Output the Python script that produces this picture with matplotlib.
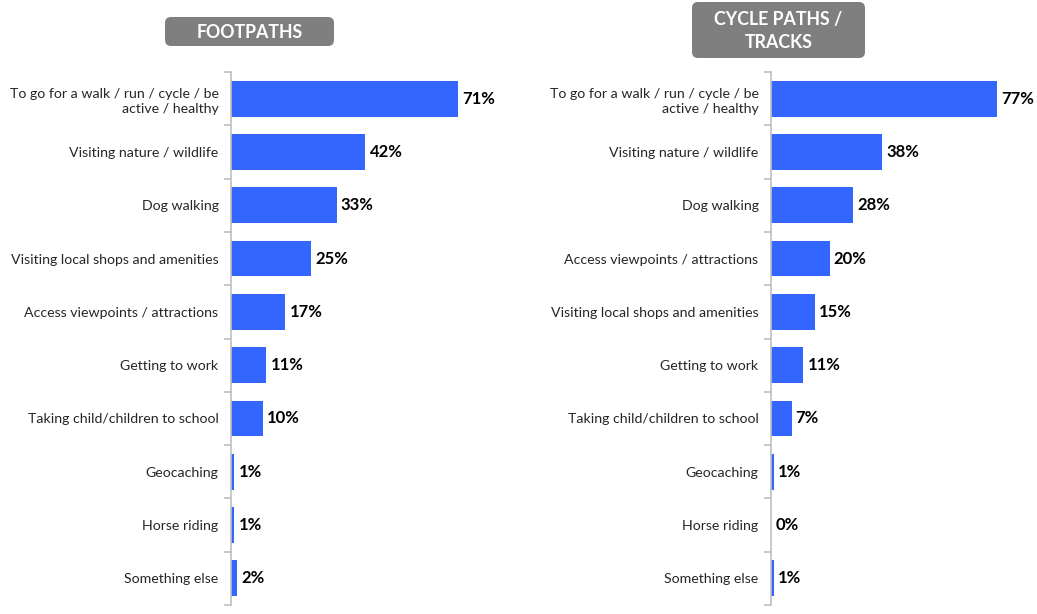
import matplotlib
matplotlib.use("Agg")
import matplotlib.pyplot as plt
from matplotlib.patches import FancyBboxPatch
import numpy as np

foot_cats = ["To go for a walk / run / cycle / be\nactive / healthy",
             "Visiting nature / wildlife", "Dog walking",
             "Visiting local shops and amenities",
             "Access viewpoints / attractions", "Getting to work",
             "Taking child/children to school", "Geocaching",
             "Horse riding", "Something else"]
foot_vals = [71, 42, 33, 25, 17, 11, 10, 1, 1, 2]

cycle_cats = ["To go for a walk / run / cycle / be\nactive / healthy",
              "Visiting nature / wildlife", "Dog walking",
              "Access viewpoints / attractions",
              "Visiting local shops and amenities", "Getting to work",
              "Taking child/children to school", "Geocaching",
              "Horse riding", "Something else"]
cycle_vals = [77, 38, 28, 20, 15, 11, 7, 1, 0, 1]

titles = ["FOOTPATHS", "CYCLE PATHS /\nTRACKS"]

plt.rcParams['font.family'] = ['Lato', 'DejaVu Sans']
W, H = 1037, 614
fig = plt.figure(figsize=(W / 100, H / 100), dpi=100)

BAR = "#3366FF"
SPINE = "#BFBFBF"

# overlay in pixel coordinates for title boxes
ov = fig.add_axes([0, 0, 1, 1])
ov.set_xlim(0, W)
ov.set_ylim(H, 0)
ov.axis("off")

def panel(x0, x1, pxper, cats, vals, title, box):
    ax = fig.add_axes([x0 / W, 9 / H, (x1 - x0) / W, 533 / H])
    n = len(cats)
    y = np.arange(n)
    ax.barh(y, vals, height=0.67, color=BAR)
    ax.set_ylim(n - 0.5, -0.5)
    ax.set_xlim(0, (x1 - x0) / pxper)
    ax.set_yticks(y)
    ax.set_yticklabels(cats, fontsize=10.2, color="#262626", linespacing=1.35)
    ax.tick_params(axis='y', which='major', length=0, pad=9)
    ax.set_yticks(np.arange(n + 1) - 0.5, minor=True)
    ax.tick_params(axis='y', which='minor', length=5, color=SPINE, width=1.2)
    ax.set_xticks([])
    for s in ["top", "right", "bottom"]:
        ax.spines[s].set_visible(False)
    ax.spines["left"].set_color(SPINE)
    ax.spines["left"].set_linewidth(1.2)
    for yi, v in zip(y, vals):
        ax.annotate(f"{v}%", (v, yi), xytext=(3, 0), textcoords="offset points",
                    ha="left", va="center", fontsize=12, fontweight="bold",
                    color="black")
    bx0, by0, bx1, by1 = box
    ov.add_patch(FancyBboxPatch((bx0, by0), bx1 - bx0, by1 - by0,
                                boxstyle="round,pad=0,rounding_size=6",
                                fc="#7F7F7F", ec="none"))
    ov.text((bx0 + bx1) / 2, (by0 + by1) / 2 + 1, title, ha="center",
            va="center", fontsize=12.8, fontweight="bold", color="white",
            linespacing=1.45)
    return ax

panel(231, 490, 3.2, foot_cats, foot_vals, titles[0], (165, 17, 334, 46))
panel(771, 1030, 2.93, cycle_cats, cycle_vals, titles[1], (692, 2, 865, 58))

fig.savefig("out.png", dpi=100)
